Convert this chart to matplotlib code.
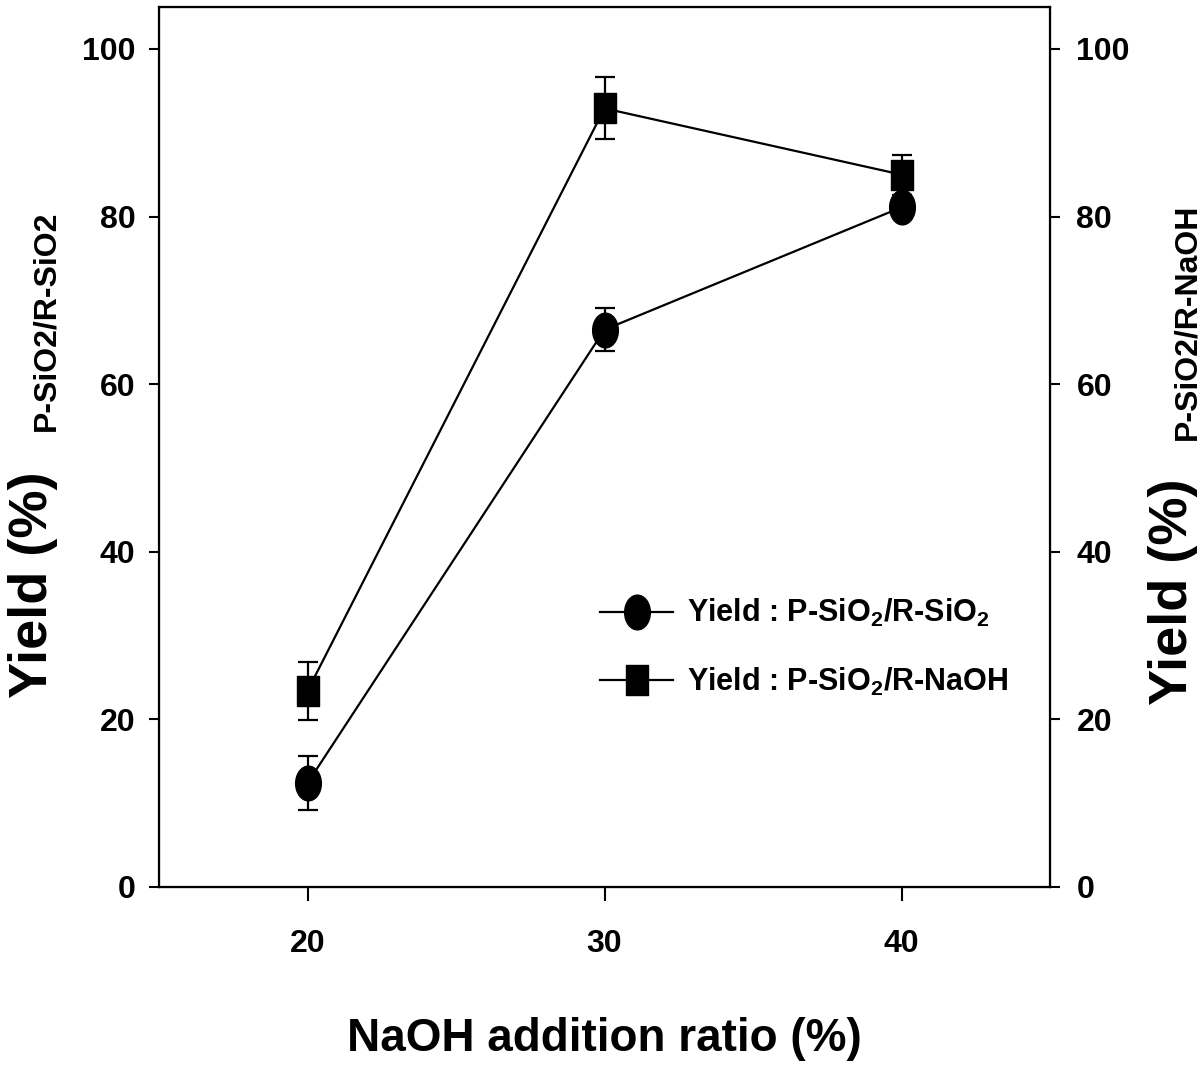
import numpy as np
import matplotlib
matplotlib.use("Agg")
import matplotlib.pyplot as plt
from matplotlib.path import Path

# data
ratio = [20, 30, 40]
yield_sio2 = [12.4, 66.5, 81.1]
err_sio2 = [3.2, 2.6, 1.0]
yield_naoh = [23.4, 92.9, 85.0]
err_naoh = [3.5, 3.7, 2.4]
yticks = [0, 20, 40, 60, 80, 100]
xticks = [20, 30, 40]

plt.rcParams['font.family'] = ['Liberation Sans', 'DejaVu Sans']
plt.rcParams['font.weight'] = 'bold'
plt.rcParams['axes.labelweight'] = 'bold'
plt.rcParams['mathtext.fontset'] = 'custom'
plt.rcParams['mathtext.rm'] = 'Liberation Sans:bold'
plt.rcParams['mathtext.default'] = 'rm'

# markers in the picture are squeezed sideways
sq = 0.74
ellipse = Path(Path.unit_circle().vertices * [sq, 1.0], Path.unit_circle().codes)
box = Path([[-sq, -1], [sq, -1], [sq, 1], [-sq, 1], [-sq, -1]], closed=True)

fig = plt.figure(figsize=(12.03, 10.68), dpi=100)
ax = fig.add_axes([159/1203, 181/1068, 891/1203, 880/1068])

e1 = ax.errorbar(ratio, yield_sio2, yerr=err_sio2, color='black', lw=1.6,
                 marker=ellipse, ms=25, mfc='black', mec='black',
                 capsize=7.5, capthick=1.6, elinewidth=1.6)
e2 = ax.errorbar(ratio, yield_naoh, yerr=err_naoh, color='black', lw=1.6,
                 marker=box, ms=21, mfc='black', mec='black',
                 capsize=7.5, capthick=1.6, elinewidth=1.6)

ax.set_xlim(15, 45)
ax.set_ylim(0, 105)
ax.set_xticks(xticks)
ax.set_yticks(yticks)
ax.tick_params(axis='x', direction='out', length=10, width=1.5, pad=20, labelsize=23)
ax.tick_params(axis='y', direction='out', length=7, width=1.5, pad=10, labelsize=23)
for s in ax.spines.values():
    s.set_linewidth(1.6)

ax2 = ax.twinx()
ax2.set_ylim(0, 105)
ax2.set_yticks(yticks)
ax2.tick_params(axis='y', direction='out', length=7, width=1.5, pad=12, labelsize=23)

ax.set_xlabel('NaOH addition ratio (%)', fontsize=33, labelpad=42)

# y labels: big "Yield (%)" plus a smaller subscript part
lab = dict(rotation=90, ha='center', va='center', weight='bold')
fig.text(33/1203, 1 - 585/1068, 'Yield (%)', fontsize=39, **lab)
fig.text(46/1203, 1 - 321/1068, 'P-SiO2/R-SiO2', fontsize=23, **lab)
fig.text(1173/1203, 1 - 592/1068, 'Yield (%)', fontsize=39, **lab)
fig.text(1187/1203, 1 - 322/1068, 'P-SiO2/R-NaOH', fontsize=23, **lab)

ax.legend([e1.lines[0], e2.lines[0]],
          [r'Yield : P-SiO$_2$/R-SiO$_2$', r'Yield : P-SiO$_2$/R-NaOH'],
          loc='center left', bbox_to_anchor=(0.495, 0.272), frameon=False,
          fontsize=22, handlelength=2.4, handletextpad=0.45, labelspacing=1.2,
          borderpad=0, borderaxespad=0)

fig.savefig('out.png', dpi=100)
